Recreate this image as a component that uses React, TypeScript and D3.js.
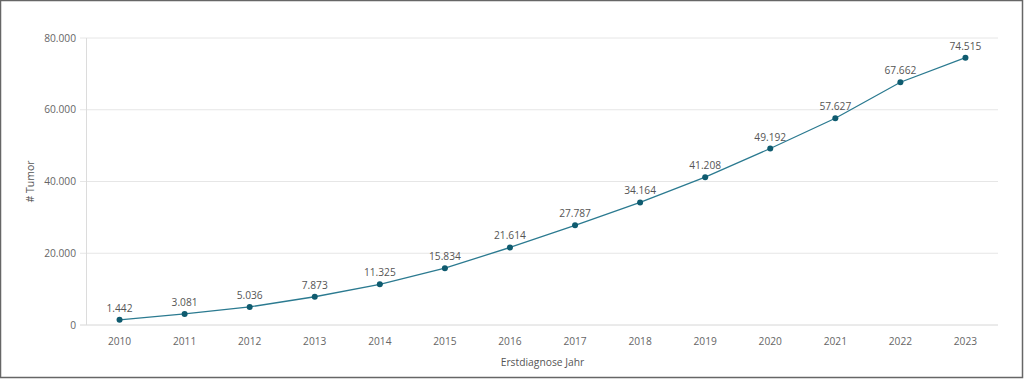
import React from "react";
import * as d3 from "d3";

const years = ["2010","2011","2012","2013","2014","2015","2016","2017","2018","2019","2020","2021","2022","2023"];
const values = [1442,3081,5036,7873,11325,15834,21614,27787,34164,41208,49192,57627,67662,74515];
const yTicks = [0,20000,40000,60000,80000];

const W = 1024, H = 379;
const left = 87, right = 998, top = 38, bottom = 325;

const fmt = (v: number) => v.toLocaleString("de-DE");

export default function App() {
  const x = d3.scalePoint<string>().domain(years).range([left, right]).padding(0.5);
  const y = d3.scaleLinear().domain([0, 80000]).range([bottom, top]);
  const line = d3.line<number>().x((_, i) => x(years[i])!).y(d => y(d));
  const font = "'Open Sans', 'Noto Sans', sans-serif";
  return (
    <svg width={W} height={H} style={{ position: "absolute", left: 0, top: 0 }} fontFamily={font}>
      <rect x={0.5} y={0.5} width={W - 2} height={H - 2} fill="#fff" stroke="#666" strokeWidth={1.5} />
      {yTicks.map(t => (
        <g key={t}>
          <line x1={80} x2={right} y1={y(t)} y2={y(t)} stroke={t === 0 ? "#d6d6d6" : "#e6e6e6"} strokeWidth={1} />
          <text x={76} y={y(t)} dy="0.35em" textAnchor="end" fontSize={10.2} fill="#666">{fmt(t)}</text>
        </g>
      ))}
      <line x1={left - 0.5} x2={left - 0.5} y1={top} y2={bottom} stroke="#dcdcdc" />
      <text transform={`translate(34,${(top + bottom) / 2}) rotate(-90)`} textAnchor="middle" fontSize={10.5} fill="#555">
        # Tumor
      </text>
      {years.map(yr => (
        <text key={yr} x={x(yr)} y={345} textAnchor="middle" fontSize={10.2} fill="#666">{yr}</text>
      ))}
      <text x={(left + right) / 2} y={366} textAnchor="middle" fontSize={10.3} fill="#555">Erstdiagnose Jahr</text>
      <path d={line(values) || ""} fill="none" stroke="#2b7a90" strokeWidth={1.3} />
      {values.map((v, i) => (
        <g key={i}>
          <circle cx={x(years[i])} cy={y(v)} r={3} fill="#0f5b6f" />
          <text x={x(years[i])} y={y(v) - 8} textAnchor="middle" fontSize={10.2} fill="#555">{fmt(v)}</text>
        </g>
      ))}
    </svg>
  );
}
